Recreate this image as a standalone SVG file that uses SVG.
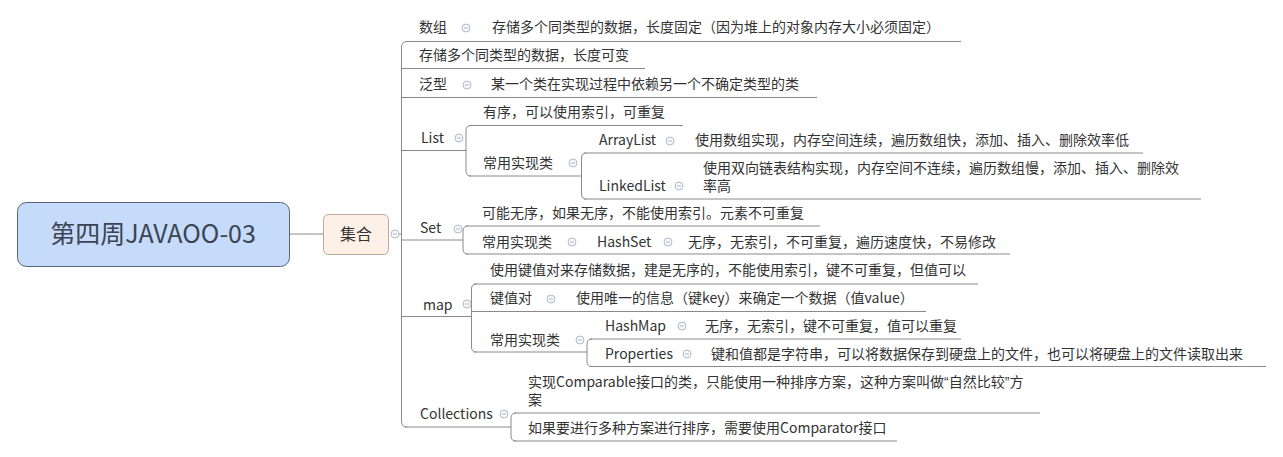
<svg xmlns="http://www.w3.org/2000/svg" width="1283" height="457" viewBox="0 0 1283 457">
<style>
.t{font-family:"Noto Sans CJK SC","Microsoft YaHei",sans-serif;font-size:14px;fill:#333}
.q{font-family:"Liberation Sans",sans-serif}
.ln{fill:none;stroke:#8a8a8a;stroke-width:1}
.c{fill:#f5f7fb;stroke:#b3bccb;stroke-width:1}
.cm{stroke:#b3bccb;stroke-width:1}
</style>
<defs>
<g id="col"><circle class="c" cx="0" cy="0" r="4"/><line class="cm" x1="-2" y1="0" x2="2" y2="0"/></g>
</defs>
<rect width="1283" height="457" fill="#ffffff"/>

<g id="connectors">
<path class="ln" d="M289 234 H323"/>
<path class="ln" d="M399 234 H401.5"/>
<path class="ln" d="M407 41.5 Q401.5 41.5 401.5 47 V421.5 Q401.5 427 407 427"/>
<path class="ln" d="M405 41.5 H961"/>
<path class="ln" d="M401.5 68.5 H645"/>
<path class="ln" d="M401.5 97.5 H817"/>
<path class="ln" d="M401.5 150.5 H466"/>
<path class="ln" d="M401.5 240 H463"/>
<path class="ln" d="M401.5 316.5 H471.5"/>
<path class="ln" d="M405 427 H511"/>
<path class="ln" d="M471 125.5 Q466 125.5 466 130.5 V171 Q466 176 471 176"/>
<path class="ln" d="M469 125.5 H683"/>
<path class="ln" d="M469 176 H581"/>
<path class="ln" d="M586.5 153 Q581.5 153 581.5 158 V194 Q581.5 199 586.5 199"/>
<path class="ln" d="M584 153 H1143"/>
<path class="ln" d="M584 199 H1201"/>
<path class="ln" d="M468 226 Q463 226 463 231 V249 Q463 254 468 254"/>
<path class="ln" d="M466 226 H820"/>
<path class="ln" d="M466 254 H1010"/>
<path class="ln" d="M476.5 284 Q471.5 284 471.5 289 V347 Q471.5 352 476.5 352"/>
<path class="ln" d="M474 284 H978"/>
<path class="ln" d="M471.5 311.5 H926"/>
<path class="ln" d="M474 352 H587"/>
<path class="ln" d="M592 339 Q587 339 587 344 V361.5 Q587 366.5 592 366.5"/>
<path class="ln" d="M590 339 H961"/>
<path class="ln" d="M590 366.5 H1266"/>
<path class="ln" d="M516 413 Q511 413 511 418 V436 Q511 441 516 441"/>
<path class="ln" d="M514 413 H1040"/>
<path class="ln" d="M514 441 H897"/>
</g>

<g id="root">
<rect x="17.5" y="202.5" width="272" height="64" rx="9" fill="#c6dafa" stroke="#56657f" stroke-width="1"/>
<text x="153" y="243" text-anchor="middle" style="font-family:'Noto Sans CJK SC',sans-serif;font-size:25px;fill:#3a4452">第四周JAVAOO-03</text>
</g>

<g id="jihe">
<rect x="323.5" y="214.5" width="65" height="40" rx="5" fill="#fdf1e7" stroke="#b9a998" stroke-width="1"/>
<text x="356" y="240" text-anchor="middle" style="font-family:'Noto Sans CJK SC',sans-serif;font-size:16px;fill:#333">集合</text>
<use href="#col" x="395" y="234"/>
</g>

<g id="shuzu">
<text class="t" x="419" y="32">数组</text>
<use href="#col" x="466" y="28"/>
<text class="t" x="492" y="32">存储多个同类型的数据，长度固定（因为堆上的对象内存大小必须固定）</text>
</g>

<g id="kebian">
<text class="t" x="419" y="60">存储多个同类型的数据，长度可变</text>
</g>

<g id="fanxing">
<text class="t" x="419" y="89">泛型</text>
<use href="#col" x="467" y="85"/>
<text class="t" x="491" y="89">某一个类在实现过程中依赖另一个不确定类型的类</text>
</g>

<g id="list">
<text class="t" x="421" y="143">List</text>
<use href="#col" x="459" y="138"/>
</g>
<g id="list-ordered">
<text class="t" x="483" y="117">有序，可以使用索引，可重复</text>
</g>
<g id="list-impl">
<text class="t" x="483" y="168">常用实现类</text>
<use href="#col" x="573" y="163"/>
</g>
<g id="arraylist">
<text class="t" x="599" y="145">ArrayList</text>
<use href="#col" x="670" y="141"/>
<text class="t" x="695" y="145">使用数组实现，内存空间连续，遍历数组快，添加、插入、删除效率低</text>
</g>
<g id="linkedlist">
<text class="t" x="599" y="191">LinkedList</text>
<use href="#col" x="679" y="186"/>
<text class="t" x="703" y="173">使用双向链表结构实现，内存空间不连续，遍历数组慢，添加、插入、删除效</text>
<text class="t" x="703" y="191">率高</text>
</g>

<g id="set">
<text class="t" x="420" y="233">Set</text>
<use href="#col" x="458" y="229"/>
</g>
<g id="set-desc">
<text class="t" x="482" y="218">可能无序，如果无序，不能使用索引。元素不可重复</text>
</g>
<g id="set-impl">
<text class="t" x="482" y="247">常用实现类</text>
<use href="#col" x="572" y="242"/>
</g>
<g id="hashset">
<text class="t" x="597" y="247">HashSet</text>
<use href="#col" x="668" y="242"/>
<text class="t" x="688" y="247">无序，无索引，不可重复，遍历速度快，不易修改</text>
</g>

<g id="map">
<text class="t" x="423" y="310">map</text>
<use href="#col" x="467" y="304"/>
</g>
<g id="map-desc">
<text class="t" x="490" y="275">使用键值对来存储数据，建是无序的，不能使用索引，键不可重复，但值可以</text>
</g>
<g id="kvpair">
<text class="t" x="490" y="303">键值对</text>
<use href="#col" x="551" y="299"/>
<text class="t" x="576" y="303">使用唯一的信息（键key）来确定一个数据（值value）</text>
</g>
<g id="map-impl">
<text class="t" x="490" y="345">常用实现类</text>
<use href="#col" x="580" y="340"/>
</g>
<g id="hashmap">
<text class="t" x="605" y="331">HashMap</text>
<use href="#col" x="682" y="326"/>
<text class="t" x="705" y="331">无序，无索引，键不可重复，值可以重复</text>
</g>
<g id="properties">
<text class="t" x="605" y="359">Properties</text>
<use href="#col" x="687" y="354"/>
<text class="t" x="711" y="359">键和值都是字符串，可以将数据保存到硬盘上的文件，也可以将硬盘上的文件读取出来</text>
</g>

<g id="collections">
<text class="t" x="420" y="419">Collections</text>
<use href="#col" x="504" y="414"/>
</g>
<g id="comparable">
<text class="t" x="528" y="387">实现Comparable接口的类，只能使用一种排序方案，这种方案叫做<tspan class="q">“</tspan>自然比较<tspan class="q">”</tspan>方</text>
<text class="t" x="528" y="405">案</text>
</g>
<g id="comparator">
<text class="t" x="528" y="433">如果要进行多种方案进行排序，需要使用Comparator接口</text>
</g>
</svg>
